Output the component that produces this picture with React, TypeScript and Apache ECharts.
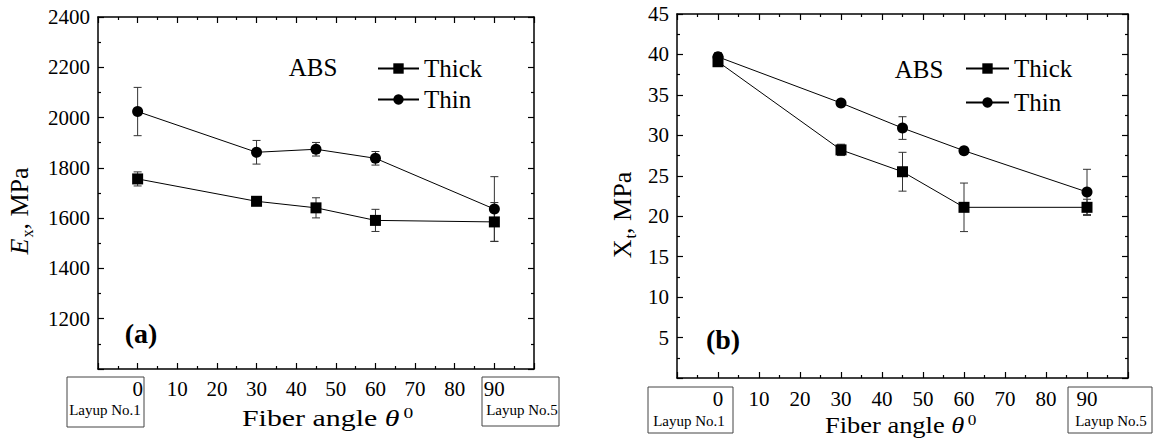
import React, { useEffect, useRef } from "react";
import * as echarts from "echarts";

// ---- data ----
const angles = [0, 30, 45, 60, 90];
const seriesNames = ["Thick", "Thin"];
// (a) Young's modulus Ex, MPa
const exThick = [1756, 1667, 1641, 1591, 1585];
const exThickErr = [28, 12, 40, 44, 77];
const exThin = [2024, 1862, 1874, 1838, 1636];
const exThinErr = [96, 47, 27, 27, 129];
// (b) tensile strength Xt, MPa
const xtThick = [39.1, 28.2, 25.5, 21.1, 21.1];
const xtThickErr = [0.4, 0.7, 2.4, 3.0, 1.0];
const xtThin = [39.7, 34.0, 30.9, 28.1, 23.0];
const xtThinErr = [0.5, 0.3, 1.4, 0.3, 2.8];
// axis ranges
const xMin = -10, xMax = 100, xStep = 10;
const exMin = 1000, exMax = 2400, exStep = 200;
const xtMin = 0, xtMax = 45, xtStep = 5;
const layupLeft = "Layup No.1";
const layupRight = "Layup No.5";

const FONT = "Liberation Serif";

const lineCol = "#000";

function xAxisPair(gridIndex: number, margin: number) {
  const base = {
    type: "value",
    gridIndex,
    min: xMin,
    max: xMax,
    interval: xStep,
    axisLine: { show: true, onZero: false, lineStyle: { color: lineCol, width: 1.5 } },
    axisTick: { show: true, inside: true, length: 6, lineStyle: { color: lineCol, width: 1.2 } },
    minorTick: { show: true, splitNumber: 2, length: 3, lineStyle: { color: lineCol, width: 1.2 } },
    splitLine: { show: false },
    minorSplitLine: { show: false },
  };
  return [
    {
      ...base,
      position: "bottom",
      axisLabel: {
        show: true,
        margin,
        fontFamily: FONT,
        fontSize: 21,
        color: "#000",
        showMinLabel: false,
        showMaxLabel: false,
        formatter: (v: number) => (v < 0 || v > 90 ? "" : String(v)),
      },
    },
    { ...base, position: "top", axisLabel: { show: false } },
  ];
}

function yAxisPair(gridIndex: number, min: number, max: number, step: number) {
  const base = {
    type: "value",
    gridIndex,
    min,
    max,
    interval: step,
    axisLine: { show: true, onZero: false, lineStyle: { color: lineCol, width: 1.5 } },
    axisTick: { show: true, inside: true, length: 6, lineStyle: { color: lineCol, width: 1.2 } },
    minorTick: { show: true, splitNumber: 2, length: 3, lineStyle: { color: lineCol, width: 1.2 } },
    splitLine: { show: false },
    minorSplitLine: { show: false },
  };
  return [
    {
      ...base,
      position: "left",
      axisLabel: {
        show: true,
        margin: 8,
        fontFamily: FONT,
        fontSize: 21,
        color: "#000",
        showMinLabel: false,
        showMaxLabel: true,
        formatter: (v: number) => String(v),
      },
    },
    { ...base, position: "right", axisLabel: { show: false } },
  ];
}

function lineSeries(name: string, vals: number[], xi: number, yi: number, symbol: string, size: number) {
  return {
    type: "line",
    name,
    xAxisIndex: xi,
    yAxisIndex: yi,
    data: angles.map((a, i) => [a, vals[i]]),
    symbol,
    symbolSize: size,
    itemStyle: { color: "#000" },
    lineStyle: { color: "#000", width: 1 },
    z: 4,
  };
}

function errSeries(vals: number[], errs: number[], xi: number, yi: number) {
  return {
    type: "custom",
    name: "err",
    xAxisIndex: xi,
    yAxisIndex: yi,
    silent: true,
    z: 3,
    encode: { x: 0, y: [1, 2] },
    data: angles.map((a, i) => [a, vals[i] - errs[i], vals[i] + errs[i]]),
    renderItem: (_p: any, api: any) => {
      const x = api.value(0);
      const lo = api.value(1);
      const hi = api.value(2);
      const t = api.coord([x, hi]);
      const b = api.coord([x, lo]);
      const w = 4;
      const st = { stroke: "#333", lineWidth: 1 };
      return {
        type: "group",
        children: [
          { type: "line", shape: { x1: t[0], y1: t[1], x2: b[0], y2: b[1] }, style: st },
          { type: "line", shape: { x1: t[0] - w, y1: t[1], x2: t[0] + w, y2: t[1] }, style: st },
          { type: "line", shape: { x1: b[0] - w, y1: b[1], x2: b[0] + w, y2: b[1] }, style: st },
        ],
      };
    },
  };
}

function legend(left: number, top: number, itemWidth: number, gap: number) {
  return {
    data: seriesNames,
    orient: "vertical",
    left,
    top,
    itemWidth,
    itemHeight: 13,
    itemGap: gap,
    selectedMode: false,
    textStyle: { fontFamily: FONT, fontSize: 25, color: "#000", lineHeight: 25 },
  };
}

function txt(x: number, y: number, text: string, size: number, extra: any = {}) {
  return {
    type: "text",
    x,
    y,
    ...extra.el,
    style: {
      text,
      fontFamily: FONT,
      fontSize: size,
      fill: "#000",
      align: "center",
      verticalAlign: "middle",
      ...extra.style,
    },
  };
}

function box(x: number, y: number, w: number, h: number) {
  return {
    type: "rect",
    shape: { x, y, width: w, height: h },
    style: { fill: "none", stroke: "#444", lineWidth: 1 },
  };
}

const richTitle = {
  it: { fontStyle: "italic", fontFamily: FONT, fontSize: 23, fill: "#000" },
  sup: { fontFamily: FONT, fontSize: 15, fill: "#000", verticalAlign: "top", padding: [0, 0, 10, 3] },
};

function yTitleRich(size: number, italic: boolean) {
  return {
    m: { fontStyle: italic ? "italic" : "normal", fontFamily: FONT, fontSize: size, fill: "#000" },
    n: { fontFamily: FONT, fontSize: size, fill: "#000" },
    sub: { fontFamily: FONT, fontSize: 16, fill: "#000", verticalAlign: "bottom", padding: [16, 0, 0, 1] },
  };
}

export default function App() {
  const ref = useRef<HTMLDivElement>(null);
  useEffect(() => {
    if (!ref.current) return;
    const chart = echarts.init(ref.current, null, { renderer: "svg" });
    const option: any = {
      animation: false,
      backgroundColor: "#fff",
      textStyle: { fontFamily: FONT },
      grid: [
        { left: 98, top: 17, width: 436, height: 352 },
        { left: 677, top: 14, width: 451, height: 364 },
      ],
      xAxis: [...xAxisPair(0, 9), ...xAxisPair(1, 10)],
      yAxis: [...yAxisPair(0, exMin, exMax, exStep), ...yAxisPair(1, xtMin, xtMax, xtStep)],
      legend: [legend(372, 51, 41, 6), legend(960, 51, 43, 9)],
      series: [
        errSeries(exThick, exThickErr, 0, 0),
        errSeries(exThin, exThinErr, 0, 0),
        lineSeries(seriesNames[0], exThick, 0, 0, "rect", 11),
        lineSeries(seriesNames[1], exThin, 0, 0, "circle", 11),
        errSeries(xtThick, xtThickErr, 2, 2),
        errSeries(xtThin, xtThinErr, 2, 2),
        lineSeries(seriesNames[0], xtThick, 2, 2, "rect", 11),
        lineSeries(seriesNames[1], xtThin, 2, 2, "circle", 11),
      ],
      graphic: [
        txt(313, 67, "ABS", 25),
        txt(919, 69, "ABS", 25),
        txt(141, 333, "(a)", 28, { style: { fontWeight: "bold" } }),
        txt(723, 339, "(b)", 28, { style: { fontWeight: "bold" } }),
        box(67, 377, 77, 50),
        box(482, 377, 77, 49),
        box(648, 387, 85, 46),
        box(1068, 387, 84, 46),
        txt(105, 410, layupLeft, 15),
        txt(522, 410, layupRight, 15),
        txt(689, 421, layupLeft, 15),
        txt(1111, 421, layupRight, 15),
        txt(242, 418, "Fiber angle {it|θ}{sup|0}", 23, {
          el: { scaleX: 1.3 },
          style: { align: "left", rich: richTitle },
        }),
        txt(825, 425, "Fiber angle {it|θ}{sup|0}", 23, {
          el: { scaleX: 1.15 },
          style: { align: "left", rich: richTitle },
        }),
        txt(19, 211, "{m|E}{sub|x}{n|, MPa}", 26, {
          el: { rotation: Math.PI / 2 },
          style: { rich: yTitleRich(26, true) },
        }),
        txt(622, 215, "{m|X}{sub|t}{n|, MPa}", 26, {
          el: { rotation: Math.PI / 2 },
          style: { rich: yTitleRich(26, false) },
        }),
      ],
    };
    chart.setOption(option);
    return () => chart.dispose();
  }, []);
  return (
    <div
      ref={ref}
      style={{ position: "fixed", left: 0, top: 0, width: 1153, height: 439, background: "#fff" }}
    />
  );
}
